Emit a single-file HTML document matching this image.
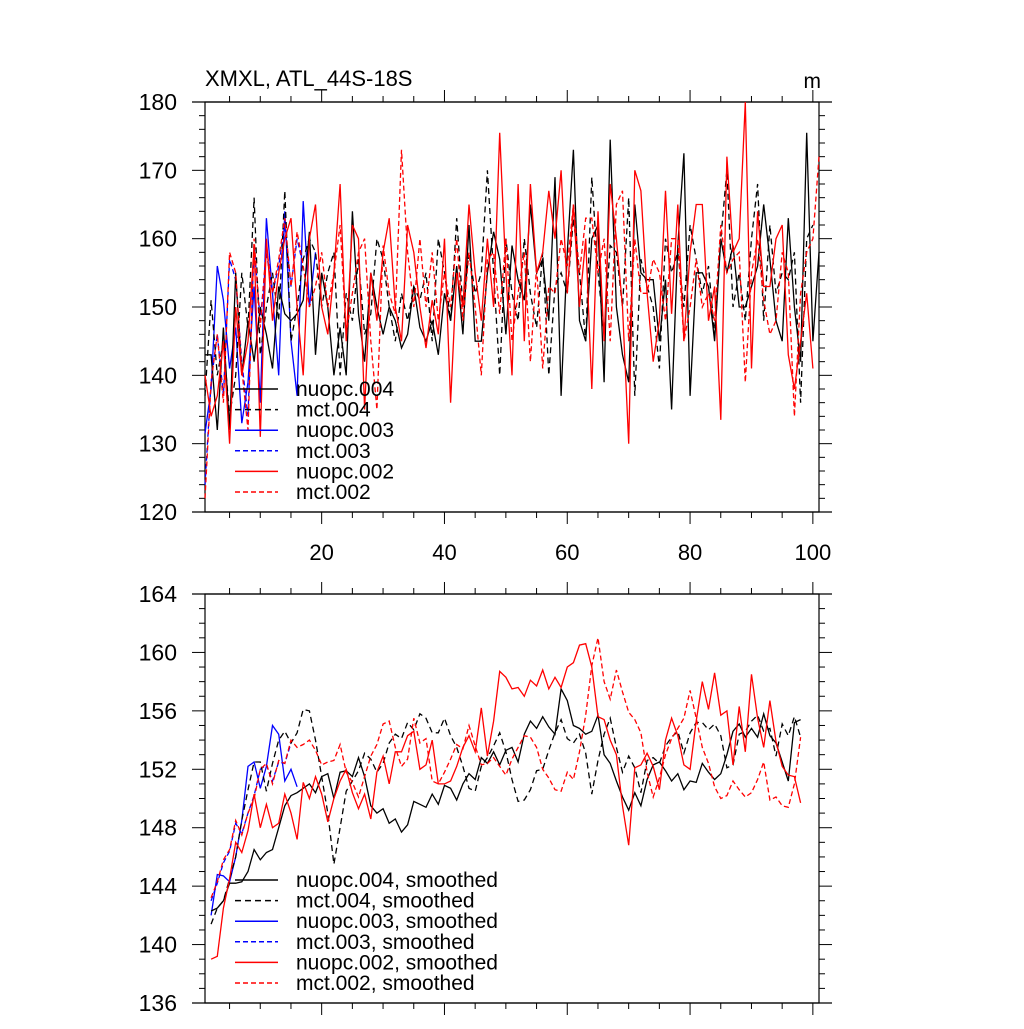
<!DOCTYPE html>
<html><head><meta charset="utf-8"><style>
html,body{margin:0;padding:0;background:#fff}
svg text{font-family:"Liberation Sans",sans-serif}
</style></head><body>
<svg id="chart" width="1024" height="1024" viewBox="0 0 1024 1024" xmlns="http://www.w3.org/2000/svg">
<rect width="1024" height="1024" fill="#fff"/>
<g id="top"></g><g id="bot"></g>
</svg>
<script>
const topNuopc004=[143,143,132,147,132,155,140,148,142,150,146,141,153,149,148,149,151,161,143,155,150,140,147,140,164,149,142,155,150,146,150,148,144,146,153,147,145,148,143,152,148,156,146,162,145,145,155,161,157,146,159,154,151,165,155,157,148,169,137,158,173,148,145,160,162,139,174.5,150,143,139,165,155,154,154,145,154,135,159,172.5,137,155,155,153,145,160,155,159,150,150,153,156,165,157,148,145,163,150,142,175.5,145,158];
const topMct004=[137,151,140,145,134,140,155,147,166,143,150,155,148,167,145,150,157,160,158,150,155,158,140,152,148,157,146,149,160,157,150,145,152,148,153,151,155,145,160,155,148,163,150,158,152,155,170,155,140,160,152,148,160,152,147,158,140,153,155,152,163,155,145,169,155,146,159,158,150,166,137,157,153,150,141,160,155,158,150,162,157,152,156,146,160,170,150,155,148,160,168,148,162,152,155,154,158,136,160,162];
const topNuopc003=[131.5,138,156,151,141,147,133,139,153,136,163,152,140,164,145,137,165.5,150,158];
const topMct003=[124,139,146,137,157,154,142,134,159,148,158,152,156,162,153,160,156];
const topNuopc002=[140,134,137,145,130,150,140,145,159,131,160,148,155,160,163,150,140,160,165,150,146,155,168,145,162,160,135,155,148,158,163,150,145,162,158,150,144,151,146,160,136,155,150,165,155,148,160,150,175.5,155,140,168,145,168,155,158,167,160,170,152,165,150,160,138,164,145,168,160,150,130,170,167,152,142,148,167,149,165,145,158,165,165,148,153,133.5,172,158,160,180,141,164,153,153,160,162,143,138,145,152,141];
const topMct002=[122,139,146,136,158,155,141,132,160,147,159,152,157,163,153,161,156,150,153,158,150,155,162,146,152,158,160,145,135,159,152,149,173,158,150,160,150,158,148,155,150,160,148,158,150,140,157,158,149,160,145,152,158,142,156,141,153,152,160,156,165,155,163,163,155,160,145,165,167,145,160,152,152,157,155,148,160,160,145,150,157,150,152,148,162,155,157,158,139,155,160,151,146,148,158,155,134,152,158,160,172];
const smNuopc004=[142.3,142.5,143,144.2,144.2,144.3,145,146.5,145.8,146.3,146.5,148,149.5,150.2,150.4,150.7,151,150.4,151.5,151.7,150,151.8,151.9,151.5,152.8,151.5,149.5,149,149.3,148.3,148.6,147.7,148.2,149.8,149.6,149.4,150.3,149.6,150.9,150.7,149.9,151,151.7,151.3,152.8,152.4,153.2,152.3,153.3,153.5,152.5,154.4,155.3,154.8,155.6,154.9,154.4,157.5,156.7,155,154.8,154.4,154.6,155.7,153,152.4,151.2,150.1,149.2,150.4,149.5,151.3,152.3,152.5,151.9,151.2,151.7,150.6,151.2,151.1,152.4,151.8,151.3,151.7,153,154.6,155.1,154.2,154.8,154.2,155.8,154.3,153.8,152.5,151.2,155.2,155.4];
const smMct004=[141.4,142.5,143,144.5,146,148.5,150.6,152.5,152.5,150.5,152.4,154,154.6,153.8,154.5,156.1,156,154,151.5,149,145.5,148,150.5,151.2,151.9,153.1,152.7,151.8,152.4,153.8,154.4,154.1,155.2,154.7,155.8,155.5,154.5,154.5,155.5,154.3,153.5,152.2,150.7,150.5,152.2,152.8,153.6,154.5,153.2,151.3,149.8,149.9,150.6,151.9,152,153.3,154.5,155.4,154.1,153.8,154.4,153.1,150.3,152.6,154.4,155.5,153.5,151.8,152.9,152.1,150.4,152.6,152.8,152.4,153.6,154.2,154.6,153.1,154.5,155.2,155.2,154.7,155.1,154.3,152.1,152.3,154.4,154.6,155.3,155.7,154.6,154.8,152.9,155.1,154.3,155.6,154.2];
const smNuopc003=[142,144.8,144.7,144.3,146,148.5,152.2,152.5,150.7,152.2,155,154.4,151.2,152,150.8];
const smMct003=[143,144.2,145.6,146.4,148.3,147.6,149,150.2,152,152.3,151.2,152.5,152.4,153.8];
const smNuopc002=[139,139.2,142.5,144.5,147,146.3,147.8,150.3,148,149.6,148,148.3,150.3,149,147.2,151.1,150,151.5,150.3,148.4,150,151.2,152,150.4,149.3,150.3,148.6,151.8,152.9,151,153.2,153.2,154.3,154.6,152,152.3,154,151,151,151.2,152.2,153.5,154.3,153.2,156.2,152.9,155.3,158.7,158.3,157.5,157.6,157,158.1,157.7,158.8,157.5,158.3,157.6,159,159.3,160.5,160.6,159,155.6,155.4,154,153,149.5,146.8,152.1,152.3,153.1,152.2,150.6,154,155.5,154.3,152.3,152,155.3,158,156.1,158.6,155.7,156,152.3,156.3,153.2,158.5,155.5,153.5,156.7,153.9,152.2,151.6,151.5,149.7];
const smMct002=[143.2,144.3,145.8,146.5,148.5,147.5,149,150,152,152.4,151,152.6,152.4,154,153.5,153.7,154,153.3,152.3,152.5,152.6,153.7,151.8,151.1,150.1,151.5,152.9,153.7,155.1,155.3,153.5,152.2,152.7,155.5,153.8,154.1,151.2,151,151.8,152.7,153.7,153.4,155,153.6,152.3,152.4,152.8,152.2,151.6,152.7,153.5,154.3,154.2,153.5,152,151.4,150.6,150.5,151.8,151.3,153.2,155.7,159.1,161,158,156.8,158.8,157.3,155.9,155.4,154.5,151.8,150.1,151.4,153,154.1,154.8,155.5,157.4,155.5,153.5,152.4,150.8,150,150.2,151.2,150.6,150.1,150.4,151.3,152.5,149.9,150.1,149.5,149.4,151,154.2];
const topYTicks=[120,130,140,150,160,170,180];
const botYTicks=[136,140,144,148,152,156,160,164];
const xTicks=[20,40,60,80,100];
const topLegend=["nuopc.004","mct.004","nuopc.003","mct.003","nuopc.002","mct.002"];
const botLegend=["nuopc.004, smoothed","mct.004, smoothed","nuopc.003, smoothed","mct.003, smoothed","nuopc.002, smoothed","mct.002, smoothed"];

const NS="http://www.w3.org/2000/svg";
const X0=205,X1=819;
const xs=v=>X0+(v-1)*(X1-X0)/100;
function mk(p,tag,at){const e=document.createElementNS(NS,tag);for(const k in at)e.setAttribute(k,at[k]);p.appendChild(e);return e;}
const styles=[["#000",null],["#000","6,4"],["#0000ff",null],["#0000ff","5,3"],["#ff0000",null],["#ff0000","5,3"]];

function panel(g,Y0,Y1,ymin,ymax,yTicks,minorStep,series,x0,legend,legY,nm,legFont){
  const ys=v=>Y1-(v-ymin)*(Y1-Y0)/(ymax-ymin);
  const fr=mk(g,'rect',{x:X0,y:Y0,width:X1-X0,height:Y1-Y0,fill:'none',stroke:'#000','stroke-width':1.2});
  
  
  for(let v=5;v<=100;v+=5){
    const major=xTicks.includes(v);const L=major?12:6;
    const t1=mk(g,'line',{x1:xs(v),x2:xs(v),y1:Y1,y2:Y1+L,stroke:'#000','stroke-width':1});
    
    
    const t2=mk(g,'line',{x1:xs(v),x2:xs(v),y1:Y0,y2:Y0-L,stroke:'#000','stroke-width':1});
    
    
  }
  mk(g,'line',{x1:192,x2:832,y1:Y0,y2:Y0,stroke:'#000','stroke-width':1.2});
  mk(g,'line',{x1:192,x2:832,y1:Y1,y2:Y1,stroke:'#000','stroke-width':1.2});
  for(let v=ymin;v<=ymax+1e-6;v+=minorStep){
    const major=yTicks.includes(v);const L=major?13:6;
    const a=mk(g,'line',{x1:X0-L,x2:X0,y1:ys(v),y2:ys(v),stroke:'#000','stroke-width':1});
    
    
    const b=mk(g,'line',{x1:X1,x2:X1+L,y1:ys(v),y2:ys(v),stroke:'#000','stroke-width':1});
    
    
  }
  yTicks.forEach(v=>{
    const t=mk(g,'text',{x:177,y:ys(v)+8,'text-anchor':'end','font-size':23});
    t.textContent=v;
    
    
  });
  const order=[3,2,1,0,5,4];
  order.forEach(i=>{
    const d=series[i];const st=styles[i];
    const pts=d.map((v,j)=>xs(x0+j).toFixed(1)+','+ys(v).toFixed(1)).join(' ');
    const pl=mk(g,'polyline',{points:pts,fill:'none',stroke:st[0],'stroke-width':1.3});
    if(st[1])pl.setAttribute('stroke-dasharray',st[1]);
    
    
  });
  legend.forEach((s,i)=>{
    const y=legY+i*20.6;const st=styles[i];
    const ln=mk(g,'line',{x1:235,x2:278,y1:y,y2:y,stroke:st[0],'stroke-width':1.5});
    if(st[1])ln.setAttribute('stroke-dasharray',st[1]);
    
    
    const t=mk(g,'text',{x:296,y:y+7,'font-size':legFont});
    t.textContent=s;
    
    
  });
}
const gt=document.getElementById('top'),gb=document.getElementById('bot');
panel(gt,102,512,120,180,topYTicks,2,[topNuopc004,topMct004,topNuopc003,topMct003,topNuopc002,topMct002],1,topLegend,389,'top',21);
panel(gb,594,1003,136,164,botYTicks,1,[smNuopc004,smMct004,smNuopc003,smMct003,smNuopc002,smMct002],2,botLegend,880,'bottom',21);
xTicks.forEach(v=>{
  const t=mk(gt,'text',{x:xs(v),y:560,'text-anchor':'middle','font-size':22});
  t.textContent=v;
  
  
});
const title=mk(gt,'text',{x:205,y:86,'font-size':22});
title.textContent='XMXL, ATL_44S-18S';


const unit=mk(gt,'text',{x:821,y:88,'text-anchor':'end','font-size':21});
unit.textContent='m';


</script>
</body></html>
